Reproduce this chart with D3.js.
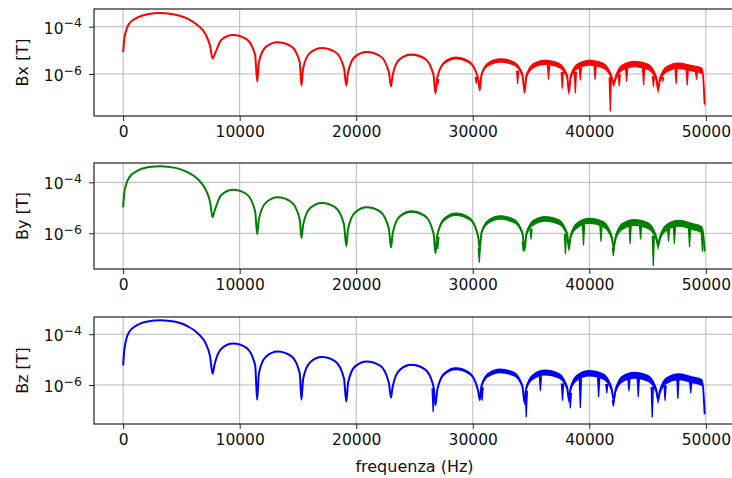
<!DOCTYPE html>
<html>
<head>
<meta charset="utf-8">
<script src="https://cdn.jsdelivr.net/npm/d3@7"></script>
<style>
  body { margin: 0; background: #fff; }
  text { font-family: "DejaVu Sans", sans-serif; fill: #111; }
</style>
</head>
<body>
<svg id="chart" width="732" height="478"></svg>
<script>
// frequency knots (Hz), shared by the three components
const freqs = [
  0, 120, 500, 1200, 2100, 3200, 4500, 5600, 6400, 7100, 7450, 7680,
  7830, 8430, 9430, 10580, 11330, 11500,
  11650, 12250, 13250, 14400, 15150, 15300,
  15450, 16050, 17050, 18200, 18950, 19150,
  19300, 19900, 20900, 22050, 22800, 22980,
  23130, 23730, 24730, 25880, 26630, 26800,
  26950, 27550, 28550, 29700, 30450, 30600,
  30750, 31350, 32350, 33500, 34250, 34450,
  34600, 35200, 36200, 37350, 38100, 38250,
  38400, 39000, 40000, 41150, 41900, 42100,
  42250, 42850, 43850, 45000, 45750, 45900,
  46050, 46650, 47650, 48800, 49700, 49900
];

// amplitude (T)
const bx = [
  8.3e-6, 3.5e-5, 1.3e-4, 2.4e-4, 3.4e-4, 3.8e-4, 3.2e-4, 2.1e-4, 1.15e-4, 4.5e-5, 1.6e-5, 4.5e-6,
  6.3e-6, 2.8e-5, 4.5e-5, 3.0e-5, 6.3e-6, 4.8e-7,
  3.2e-6, 1.4e-5, 2.2e-5, 1.5e-5, 3.2e-6, 3.2e-7,
  1.8e-6, 7.9e-6, 1.26e-5, 8.5e-6, 1.8e-6, 3.2e-7,
  1.2e-6, 5.4e-6, 8.5e-6, 5.75e-6, 1.2e-6, 3.0e-7,
  9.3e-7, 4.2e-6, 6.6e-6, 4.5e-6, 9.3e-7, 1.5e-7,
  6.8e-7, 3.0e-6, 4.8e-6, 3.2e-6, 6.8e-7, 2.1e-7,
  9.5e-7, 2.7e-6, 3.8e-6, 2.9e-6, 9.5e-7, 1.8e-7,
  8.1e-7, 2.3e-6, 3.2e-6, 2.45e-6, 8.1e-7, 1.7e-7,
  7.8e-7, 2.2e-6, 3.1e-6, 2.35e-6, 7.8e-7, 4.0e-7,
  6.9e-7, 1.95e-6, 2.75e-6, 2.1e-6, 6.9e-7, 2.1e-7,
  5.9e-7, 1.66e-6, 2.3e-6, 1.8e-6, 1.4e-6, 5.1e-8
];
const by = [
  1.05e-5, 4.5e-5, 1.5e-4, 2.8e-4, 3.9e-4, 4.3e-4, 3.7e-4, 2.4e-4, 1.35e-4, 5.0e-5, 1.8e-5, 4.3e-6,
  7.2e-6, 3.2e-5, 5.1e-5, 3.5e-5, 7.2e-6, 9.3e-7,
  3.6e-6, 1.6e-5, 2.6e-5, 1.74e-5, 3.6e-6, 6.6e-7,
  2.2e-6, 9.8e-6, 1.55e-5, 1.05e-5, 2.2e-6, 3.1e-7,
  1.5e-6, 6.6e-6, 1.05e-5, 7.1e-6, 1.5e-6, 2.8e-7,
  1.0e-6, 4.6e-6, 7.2e-6, 4.9e-6, 1.0e-6, 1.7e-7,
  8.1e-7, 3.6e-6, 5.75e-6, 3.9e-6, 8.1e-7, 2.5e-7,
  1.07e-6, 3.0e-6, 4.3e-6, 3.2e-6, 1.07e-6, 2.3e-7,
  9.5e-7, 2.7e-6, 3.8e-6, 2.9e-6, 9.5e-7, 2.5e-7,
  7.9e-7, 2.2e-6, 3.2e-6, 2.4e-6, 7.9e-7, 2.8e-7,
  6.9e-7, 1.95e-6, 2.75e-6, 2.1e-6, 6.9e-7, 3.2e-7,
  6.5e-7, 1.8e-6, 2.6e-6, 1.95e-6, 1.4e-6, 1.95e-7
];
const bz = [
  5.9e-6, 2.8e-5, 1.2e-4, 2.3e-4, 3.2e-4, 3.6e-4, 3.1e-4, 2.0e-4, 1.1e-4, 4.2e-5, 1.4e-5, 2.75e-6,
  6.0e-6, 2.7e-5, 4.3e-5, 2.9e-5, 6.0e-6, 2.6e-7,
  2.95e-6, 1.3e-5, 2.1e-5, 1.4e-5, 2.95e-6, 2.6e-7,
  1.8e-6, 7.9e-6, 1.26e-5, 8.5e-6, 1.8e-6, 2.2e-7,
  1.2e-6, 5.4e-6, 8.5e-6, 5.75e-6, 1.2e-6, 3.2e-7,
  8.7e-7, 3.9e-6, 6.2e-6, 4.2e-6, 8.7e-7, 1.6e-7,
  6.2e-7, 2.75e-6, 4.4e-6, 2.95e-6, 6.2e-7, 2.6e-7,
  9.3e-7, 2.6e-6, 3.7e-6, 2.8e-6, 9.3e-7, 2.0e-7,
  7.9e-7, 2.2e-6, 3.2e-6, 2.4e-6, 7.9e-7, 2.5e-7,
  7.6e-7, 2.1e-6, 3.0e-6, 2.3e-6, 7.6e-7, 2.5e-7,
  6.3e-7, 1.8e-6, 2.5e-6, 1.9e-6, 6.3e-7, 2.5e-7,
  5.5e-7, 1.55e-6, 2.2e-6, 1.66e-6, 1.26e-6, 7.1e-8
];

// noise spread per lobe (decades above the curve; 1.3x that below)
const noiseBx = [0, 0, 0, 0, 0.02, 0.03, 0.05, 0.08, 0.10, 0.11, 0.12, 0.12];
const noiseBy = [0, 0, 0, 0, 0.02, 0.04, 0.06, 0.08, 0.10, 0.11, 0.12, 0.12];
const noiseBz = [0, 0, 0, 0, 0.02, 0.03, 0.05, 0.08, 0.10, 0.11, 0.12, 0.12];

// downward spikes [Hz, T]
const spikesBx = [[27000, 3.5e-7], [30300, 4e-7], [33850, 4e-7], [34430, 1.7e-7], [36500, 6e-7],
  [37680, 2.5e-7], [38800, 1.6e-7], [39230, 5.6e-7], [40500, 6e-7], [41800, 2.7e-8],
  [42570, 3.2e-7], [43200, 5e-7], [44660, 3.5e-7], [45500, 3e-7], [46300, 5e-7],
  [47450, 4e-7], [48400, 3.5e-7], [49200, 6e-7]];
const spikesBy = [[27000, 2.5e-7], [30560, 7.4e-8], [34330, 2.1e-7], [35000, 6e-7], [37950, 1.6e-7],
  [39500, 3.5e-7], [41000, 5e-7], [42060, 1.35e-7], [43500, 4e-7], [44400, 6e-7],
  [45490, 5.5e-8], [46800, 5e-7], [47300, 4e-7], [48600, 3e-7], [49700, 2e-7]];
const spikesBz = [[26600, 8.9e-8], [30800, 2.5e-7], [34590, 5.6e-8], [35800, 6e-7], [37700, 2.5e-7],
  [38370, 1.26e-7], [39230, 1.3e-7], [40800, 3.5e-7], [41500, 5e-7], [42060, 1.5e-7],
  [43400, 6e-7], [44200, 3.5e-7], [45400, 5.4e-8], [46500, 2.5e-7], [47600, 3e-7], [48700, 5e-7]];

const xTicks = [0, 10000, 20000, 30000, 40000, 50000];
const yTicks = [1e-4, 1e-6];

const panels = [
  {label: 'Bx [T]', values: bx, noise: noiseBx, spikes: spikesBx, color: '#ff0000', top: 9, bottom: 116, yDomain: [1.66e-8, 5.62e-4]},
  {label: 'By [T]', values: by, noise: noiseBy, spikes: spikesBy, color: '#008000', top: 163, bottom: 269, yDomain: [3.98e-8, 5.75e-4]},
  {label: 'Bz [T]', values: bz, noise: noiseBz, spikes: spikesBz, color: '#0000ff', top: 317, bottom: 424, yDomain: [2.88e-8, 4.79e-4]}
];

const svg = d3.select('#chart');
const left = 94, right = 735;
const x = d3.scaleLinear().domain([-2500, 52500]).range([left, right]);
const defs = svg.append('defs');

panels.forEach((p, k) => {
  const y = d3.scaleLog().domain(p.yDomain).range([p.bottom, p.top]);
  const g = svg.append('g').classed('panel', true);

  defs.append('clipPath').attr('id', `clip${k}`)
    .append('rect')
    .attr('x', left).attr('y', p.top)
    .attr('width', right - left).attr('height', p.bottom - p.top);

  // grid
  g.append('g').selectAll('line').data(xTicks).join('line')
    .attr('x1', d => x(d)).attr('x2', d => x(d))
    .attr('y1', p.top).attr('y2', p.bottom)
    .attr('stroke', '#b8b8b8').attr('stroke-width', 1);
  g.append('g').selectAll('line').data(yTicks).join('line')
    .attr('x1', left).attr('x2', right)
    .attr('y1', d => y(d)).attr('y2', d => y(d))
    .attr('stroke', '#b8b8b8').attr('stroke-width', 1);

  // data
  const pts = freqs.map((f, i) => ({
    f: f,
    v: p.values[i],
    s: p.noise[i < 12 ? 0 : Math.floor((i - 12) / 6) + 1]
  }));
  const plot = g.append('g').attr('clip-path', `url(#clip${k})`);

  const band = d3.area()
    .x(d => x(d.f))
    .y0(d => y(d.v / Math.pow(10, 1.3 * d.s)))
    .y1(d => y(d.v * Math.pow(10, d.s)))
    .curve(d3.curveMonotoneX);
  plot.append('path').datum(pts)
    .attr('d', band)
    .attr('fill', p.color);

  const line = d3.line()
    .x(d => x(d.f))
    .y(d => y(d.v))
    .curve(d3.curveMonotoneX);
  plot.append('path').datum(pts)
    .attr('d', line)
    .attr('fill', 'none')
    .attr('stroke', p.color)
    .attr('stroke-width', 2)
    .attr('stroke-linejoin', 'round');

  // spikes hang from the curve
  const logAt = f => {
    let i = d3.bisectRight(freqs, f);
    i = Math.max(1, Math.min(freqs.length - 1, i));
    const t = (f - freqs[i - 1]) / (freqs[i] - freqs[i - 1]);
    return Math.log10(p.values[i - 1]) * (1 - t) + Math.log10(p.values[i]) * t;
  };
  const spikeLine = d3.line().x(d => x(d[0])).y(d => y(d[1]));
  plot.selectAll('path.spike').data(p.spikes).join('path')
    .classed('spike', true)
    .attr('d', d => {
      const base = Math.pow(10, logAt(d[0]) - 0.1);
      return spikeLine([[d[0] - 90, base], [d[0], d[1]], [d[0] + 90, base]]);
    })
    .attr('fill', p.color)
    .attr('stroke', p.color)
    .attr('stroke-width', 1.3)
    .attr('stroke-linejoin', 'round');

  // frame
  g.append('rect')
    .attr('x', left).attr('y', p.top)
    .attr('width', right - left).attr('height', p.bottom - p.top)
    .attr('fill', 'none').attr('stroke', '#222').attr('stroke-width', 1.2);

  // x axis
  const xa = g.append('g')
    .attr('transform', `translate(0,${p.bottom})`)
    .call(d3.axisBottom(x).tickValues(xTicks).tickFormat(d3.format('d')).tickSize(5).tickPadding(5))
    .call(s => s.select('.domain').remove());
  xa.selectAll('.tick line').attr('stroke', '#222');
  xa.selectAll('.tick text').attr('font-size', '15.5px').attr('font-family', '"DejaVu Sans"');

  // y axis with 10^n labels
  const ya = g.append('g')
    .attr('transform', `translate(${left},0)`)
    .call(d3.axisLeft(y).tickValues(yTicks).tickFormat(() => '').tickSize(5).tickPadding(7))
    .call(s => s.select('.domain').remove());
  ya.selectAll('.tick line').attr('stroke', '#222');
  ya.selectAll('.tick text')
    .attr('font-size', '15.5px')
    .attr('font-family', '"DejaVu Sans"')
    .attr('dy', '0.42em')
    .each(function (d) {
      const t = d3.select(this);
      t.append('tspan').text('10');
      t.append('tspan')
        .attr('dy', '-0.5em')
        .attr('font-size', '12.5px')
        .text('\u2212' + Math.round(-Math.log10(d)));
    });

  // y label
  svg.append('text')
    .attr('transform', `translate(27.5,${(p.top + p.bottom) / 2}) rotate(-90)`)
    .attr('text-anchor', 'middle')
    .attr('font-size', '16px')
    .text(p.label);
});

svg.append('text')
  .attr('x', (left + right) / 2)
  .attr('y', 472)
  .attr('text-anchor', 'middle')
  .attr('font-size', '16px')
  .text('frequenza (Hz)');
</script>
</body>
</html>
